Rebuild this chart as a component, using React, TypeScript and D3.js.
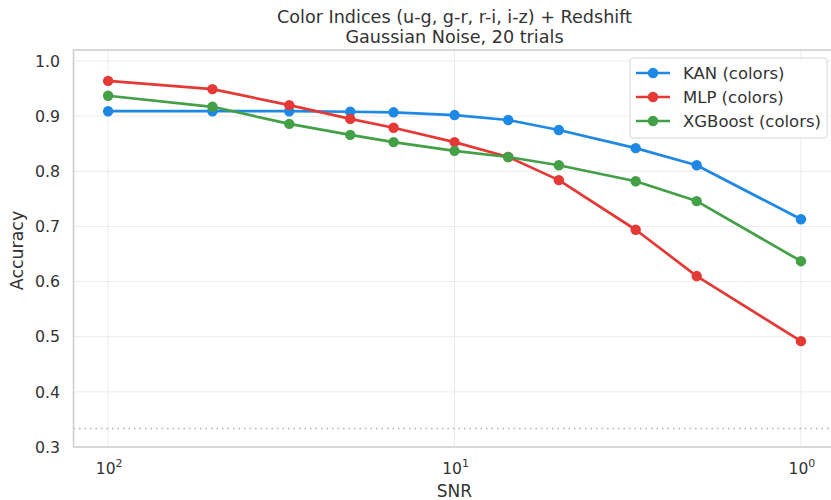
import React from "react";
import * as d3 from "d3";

const snr = [100, 50, 30, 20, 15, 10, 7, 5, 3, 2, 1];
const kanAcc = [0.909, 0.909, 0.909, 0.908, 0.907, 0.902, 0.893, 0.875, 0.842, 0.811, 0.713];
const mlpAcc = [0.964, 0.949, 0.920, 0.895, 0.879, 0.853, 0.826, 0.784, 0.694, 0.610, 0.492];
const xgbAcc = [0.937, 0.917, 0.886, 0.866, 0.853, 0.837, 0.826, 0.811, 0.782, 0.746, 0.637];
const seriesNames = ["KAN (colors)", "MLP (colors)", "XGBoost (colors)"];
const seriesColors = ["#1E88E5", "#E53935", "#43A047"];
const yTicks = [0.3, 0.4, 0.5, 0.6, 0.7, 0.8, 0.9, 1.0];
const xTicks = [100, 10, 1];
const xTickExp = ["2", "1", "0"];
const chanceLevel = 1 / 3;

const W = 831;
const H = 500;
const FONT = "DejaVu Sans, sans-serif";

export default function App() {
  const x = d3.scaleLog().domain([Math.pow(10, 2.1), Math.pow(10, -0.1)]).range([73.5, 835.6]);
  const y = d3.scaleLinear().domain([0.3, 1.02]).range([447, 50]);
  const series = [kanAcc, mlpAcc, xgbAcc];
  const line = d3
    .line<number>()
    .x((_, i) => x(snr[i]))
    .y((d) => y(d));

  const [x0, x1] = x.range();
  const [yb, yt] = y.range();

  return (
    <svg width={W} height={H} style={{ position: "absolute", left: 0, top: 0, background: "#fff" }} fontFamily={FONT}>
      <rect x={0} y={0} width={W} height={H} fill="#fff" />
      {/* grid */}
      {yTicks.map((t) => (
        <line key={"gy" + t} x1={x0} x2={x1} y1={y(t)} y2={y(t)} stroke="#ebebeb" strokeWidth={1} />
      ))}
      {xTicks.map((t) => (
        <line key={"gx" + t} x1={x(t)} x2={x(t)} y1={yb} y2={yt} stroke="#ebebeb" strokeWidth={1} />
      ))}
      {/* chance level */}
      <line x1={x0} x2={x1} y1={y(chanceLevel)} y2={y(chanceLevel)} stroke="#b0b0b0" strokeWidth={1.5} strokeDasharray="1.5,4" />
      {/* spines */}
      <rect x={x0} y={yt} width={x1 - x0} height={yb - yt} fill="none" stroke="#cccccc" strokeWidth={1.5} />
      {/* series */}
      {series.map((s, k) => (
        <g key={"s" + k}>
          <path d={line(s) || ""} fill="none" stroke={seriesColors[k]} strokeWidth={2.7} strokeLinejoin="round" />
          {s.map((v, i) => (
            <circle key={i} cx={x(snr[i])} cy={y(v)} r={5.2} fill={seriesColors[k]} />
          ))}
        </g>
      ))}
      {/* y ticks */}
      {yTicks.map((t) => (
        <text key={"ty" + t} x={60} y={y(t)} dy="0.36em" textAnchor="end" fontSize={15.8} fill="#333">
          {t.toFixed(1)}
        </text>
      ))}
      {/* x ticks */}
      {xTicks.map((t, i) => (
        <text key={"tx" + t} x={x(t) + 1} y={474} textAnchor="middle" fontSize={15.5} fill="#333">
          10
          <tspan dy={-7} fontSize={11}>
            {xTickExp[i]}
          </tspan>
        </text>
      ))}
      {/* axis labels */}
      <text x={454.5} y={496.5} textAnchor="middle" fontSize={17} fill="#333">
        SNR
      </text>
      <text transform={`translate(22.5,${(yb + yt) / 2 + 2}) rotate(-90)`} textAnchor="middle" fontSize={17.4} fill="#333">
        Accuracy
      </text>
      {/* title */}
      <text x={454.5} y={23} textAnchor="middle" fontSize={17.6} fill="#333">
        Color Indices (u-g, g-r, r-i, i-z) + Redshift
      </text>
      <text x={454.5} y={42.5} textAnchor="middle" fontSize={17.6} fill="#333">
        Gaussian Noise, 20 trials
      </text>
      {/* legend */}
      <rect x={630} y={58} width={197} height={80} rx={3} fill="#fff" fillOpacity={0.85} stroke="#d6d6d6" strokeWidth={1} />
      {seriesNames.map((n, k) => (
        <g key={"l" + k} transform={`translate(0,${73 + k * 24})`}>
          <line x1={636} x2={670} y1={0} y2={0} stroke={seriesColors[k]} strokeWidth={2.7} />
          <circle cx={653} cy={0} r={5.2} fill={seriesColors[k]} />
          <text x={683} y={0} dy="0.36em" fontSize={16.5} fill="#333">
            {n}
          </text>
        </g>
      ))}
    </svg>
  );
}
